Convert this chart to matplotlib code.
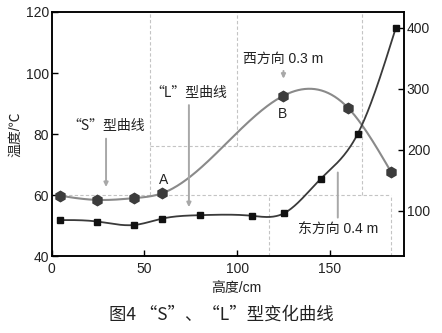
import numpy as np
import matplotlib
matplotlib.use("Agg")
import matplotlib.pyplot as plt

plt.rcParams['font.family'] = ['Liberation Sans', 'Noto Sans CJK SC']
plt.rcParams['axes.unicode_minus'] = False

# "S" curve, temperature on the left axis
s_height = [4.3, 24.6, 44.6, 59.6, 124.5, 159.8, 183.2]
s_temp = [59.8, 58.4, 59.0, 60.6, 92.4, 88.6, 67.4]

# "L" curve, values on the right axis
l_height = [4.3, 24.6, 44.6, 59.6, 79.9, 108.0, 125.2, 145.1, 165.0, 185.5]
l_value = [85, 82.6, 77, 87.4, 93, 92, 96, 152.6, 226, 399]

left_ticks = [40, 60, 80, 100, 120]
right_ticks = [100, 200, 300, 400]
x_ticks = [0, 50, 100, 150]

# partial dashed guide lines: (x, ymin, ymax) and (y, xmin, xmax)
guide_v = [(53.2, 60, 120), (99.7, 76.2, 120), (167.3, 60, 120), (117, 40, 60), (183, 40, 60)]
guide_h = [(76.2, 53.2, 167.3), (60, 0, 183)]


def natural_spline(x, y, n=300):
    x = np.asarray(x, float)
    y = np.asarray(y, float)
    k = len(x)
    h = np.diff(x)
    A = np.zeros((k, k))
    r = np.zeros(k)
    A[0, 0] = A[-1, -1] = 1
    for i in range(1, k - 1):
        A[i, i - 1] = h[i - 1]
        A[i, i] = 2 * (h[i - 1] + h[i])
        A[i, i + 1] = h[i]
        r[i] = 3 * ((y[i + 1] - y[i]) / h[i] - (y[i] - y[i - 1]) / h[i - 1])
    c = np.linalg.solve(A, r)
    b = np.diff(y) / h - h * (2 * c[:-1] + c[1:]) / 3
    d = np.diff(c) / (3 * h)
    xs = np.linspace(x[0], x[-1], n)
    idx = np.clip(np.searchsorted(x, xs) - 1, 0, k - 2)
    t = xs - x[idx]
    ys = y[idx] + b[idx] * t + c[idx] * t ** 2 + d[idx] * t ** 3
    return xs, ys


txt = '#222222'
fig = plt.figure(figsize=(4.42, 3.33), dpi=100)
ax = fig.add_axes([0.117, 0.231, 0.797, 0.733])
ax2 = ax.twinx()

ax.set_xlim(0, 190)
ax.set_ylim(40, 120)
ax2.set_ylim(26, 426)

for x, y0, y1 in guide_v:
    ax.vlines(x, y0, y1, colors='#c4c4c4', linestyles=(0, (3, 2)), lw=0.8, zorder=1)
for y, x0, x1 in guide_h:
    ax.hlines(y, x0, x1, colors='#c4c4c4', linestyles=(0, (3, 2)), lw=0.8, zorder=1)

xs, ys = natural_spline(s_height, s_temp)
ax.plot(xs, ys, color='#8a8a8a', lw=1.5, zorder=3)
ax.plot(s_height, s_temp, 'h', color='#3c3c3c', ms=7.5, zorder=4)

xs, ys = natural_spline(l_height, l_value)
ax2.plot(xs, ys, color='#3a3a3a', lw=1.3, zorder=3)
ax2.plot(l_height, l_value, 's', color='#111111', ms=5, zorder=4)

ax.set_xticks(x_ticks)
ax.set_yticks(left_ticks)
ax2.set_yticks(right_ticks)
for a in (ax, ax2):
    a.tick_params(direction='in', length=4, width=1, labelsize=10,
                  labelcolor=txt, pad=2)
    for s in a.spines.values():
        s.set_linewidth(1.1)
ax.tick_params(axis='x', pad=4)

ax.set_xlabel('高度/cm', fontsize=10, color=txt)
ax.xaxis.set_label_coords(0.525, -0.103)
ax.set_ylabel('温度/℃', fontsize=10, color=txt)
ax.yaxis.set_label_coords(-0.083, 0.5)

cjk = ['Noto Sans CJK SC', 'Liberation Sans']
arrow = dict(arrowstyle='-|>,head_length=0.25,head_width=0.12', color='#a8a8a8', lw=1.4)

ax.annotate('“S”型曲线', xy=(29.3, 61.7), xytext=(29.3, 80.3), fontsize=10,
            color=txt, ha='center', va='bottom', family=cjk, arrowprops=arrow)
ax.annotate('“L”型曲线', xy=(74, 55.1), xytext=(74, 91.3), fontsize=10,
            color=txt, ha='center', va='bottom', family=cjk, arrowprops=arrow)
ax.annotate('西方向 0.3 m', xy=(125, 97.2), xytext=(125, 102.5), fontsize=10,
            color=txt, ha='center', va='bottom', arrowprops=arrow)
ax.annotate('东方向 0.4 m', xy=(154.3, 68.3), xytext=(154.3, 48.5), fontsize=10,
            color=txt, ha='center', va='center',
            arrowprops=dict(arrowstyle='-', color='#a8a8a8', lw=1.4))
ax.text(60.5, 65, 'A', fontsize=10, color=txt, ha='center', va='center')
ax.text(124.5, 86.7, 'B', fontsize=10, color=txt, ha='center', va='center')

fig.text(0.5, 0.054, '图4 “S”、“L”型变化曲线', fontsize=12.5, color=txt,
         ha='center', va='center', family=cjk)

fig.savefig('out.png', dpi=100)
